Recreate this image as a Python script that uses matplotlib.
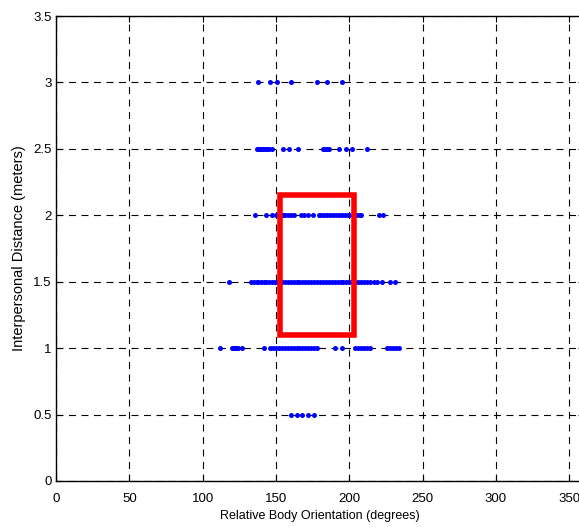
import matplotlib
matplotlib.use("Agg")
import matplotlib.pyplot as plt
from matplotlib.patches import Rectangle

# Valores (graus, por nivel de distancia)
dist_levels = [0.5, 1.0, 1.5, 2.0, 2.5, 3.0]
orient_05 = [160, 164, 168, 172, 176]
orient_10 = [112, 120, 121, 122, 123, 124, 127, 142, 146, 148, 150, 152, 154,
             156, 158, 160, 162, 164, 166, 168, 170, 172, 174, 176, 178, 190,
             195, 204, 206, 208, 210, 212, 214, 226, 228, 230, 232, 234]
orient_15 = [118, 133, 135, 137, 138, 140, 142, 143, 145, 147, 149, 150, 152,
             154, 156, 158, 160, 162, 164, 166, 168, 170, 172, 174, 176, 178,
             180, 182, 184, 186, 188, 190, 192, 194, 196, 198, 200, 202, 204,
             206, 208, 210, 212, 214, 217, 219, 222, 228, 231]
orient_20 = [136, 143, 147, 150, 152, 154, 155, 156, 158, 160, 162, 167, 169,
             172, 175, 179, 181, 183, 185, 187, 189, 191, 193, 195, 197, 199,
             200, 205, 207, 208, 220, 223]
orient_25 = [137, 138, 139, 140, 141, 142, 143, 144, 145, 147, 155, 159, 165,
             182, 183, 184, 185, 186, 193, 198, 202, 212]
orient_30 = [138, 146, 151, 160, 178, 185, 195]

# Regiao destacada
box_x = [153, 203]
box_y = [1.1, 2.15]

x_ticks = [0, 50, 100, 150, 200, 250, 300, 350]
y_ticks = [0, 0.5, 1, 1.5, 2, 2.5, 3, 3.5]

plt.rcParams['font.family'] = ['Liberation Sans', 'DejaVu Sans']
plt.rcParams['lines.scale_dashes'] = False

fig = plt.figure(figsize=(5.79, 5.27), dpi=100)
ax = fig.add_axes([0.0967, 0.0873, 0.9119, 0.8823])

series = [orient_05, orient_10, orient_15, orient_20, orient_25, orient_30]
for y, xs in zip(dist_levels, series):
    ax.plot(xs, [y] * len(xs), 'o', color='#0000ff', markersize=3.6,
            markeredgewidth=0, zorder=3)

ax.add_patch(Rectangle((box_x[0], box_y[0]), box_x[1] - box_x[0],
                       box_y[1] - box_y[0], fill=False, edgecolor='#ff0000',
                       linewidth=4, zorder=4))

ax.set_xlim(0, 360)
ax.set_ylim(0, 3.5)
ax.set_xticks(x_ticks)
ax.set_yticks(y_ticks)
ax.set_yticklabels(['0', '0.5', '1', '1.5', '2', '2.5', '3', '3.5'])
ax.grid(True, color='k', linestyle=(0, (5, 4)), linewidth=0.8)
ax.set_axisbelow(True)
ax.tick_params(direction='in', length=4, width=0.8, labelsize=9.5,
               top=True, right=True)
ax.tick_params(axis='x', pad=9)
ax.tick_params(axis='y', pad=3)
for s in ax.spines.values():
    s.set_linewidth(1.0)

ax.set_xlabel('Relative Body Orientation (degrees)', fontsize=9, labelpad=3)
ax.set_ylabel('Interpersonal Distance (meters)', fontsize=10.5, labelpad=5)

fig.savefig('out.png', dpi=100)
